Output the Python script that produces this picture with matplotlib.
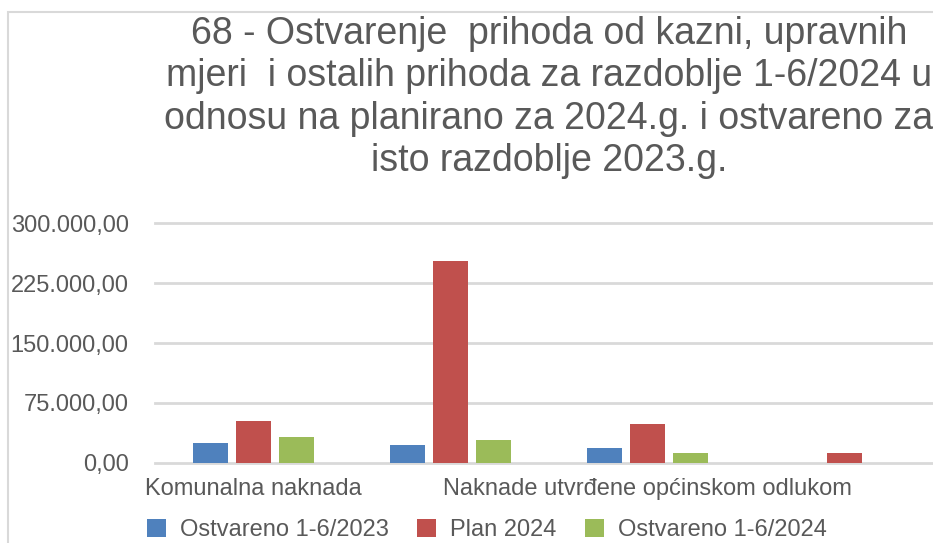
import matplotlib.pyplot as plt
from matplotlib.patches import Rectangle, Patch
import numpy as np

plt.rcParams['font.family'] = ['Liberation Sans', 'DejaVu Sans']

# data
categories = ["Komunalna naknada", "", "Naknade utvrđene općinskom odlukom", ""]
series_names = ["Ostvareno 1-6/2023", "Plan 2024", "Ostvareno 1-6/2024"]
ostvareno_2023 = [25000, 22500, 18750, 0]
plan_2024 = [52500, 252500, 48750, 12500]
ostvareno_2024 = [32500, 28750, 12500, 0]
yticks = [0, 75000, 150000, 225000, 300000]
title = ("68 - Ostvarenje  prihoda od kazni, upravnih\n"
         "mjeri  i ostalih prihoda za razdoblje 1-6/2024 u\n"
         "odnosu na planirano za 2024.g. i ostvareno za\n"
         "isto razdoblje 2023.g.")

colors = ["#4f81bd", "#c0504d", "#9bbb59"]
text_color = "#595959"
grid_color = "#d9d9d9"


def fmt(v):
    # 300000 -> 300.000,00
    s = f"{v:,.2f}"
    return s.replace(",", "X").replace(".", ",").replace("X", ".")


W, H = 933, 543
fig = plt.figure(figsize=(W / 100, H / 100), dpi=100)
ax = fig.add_axes([155 / W, 1 - 463 / H, 788 / W, 240 / H])

x = np.arange(len(categories))
width = 0.178
offset = 0.218
for i, vals in enumerate([ostvareno_2023, plan_2024, ostvareno_2024]):
    ax.bar(x + (i - 1) * offset, vals, width, color=colors[i], zorder=3)

ax.set_xlim(-0.5, len(categories) - 0.5)
ax.set_ylim(0, 300000)
for t in yticks:
    ax.axhline(t, color=grid_color, lw=2, zorder=1, clip_on=False)

ax.set_yticks(yticks)
ax.set_yticklabels([fmt(t) for t in yticks])
ax.set_xticks(x)
ax.set_xticklabels(categories)
ax.tick_params(axis='y', length=0, pad=19, labelsize=17, labelcolor=text_color)
ax.tick_params(axis='x', length=0, pad=11, labelsize=17, labelcolor=text_color)
for s in ax.spines.values():
    s.set_visible(False)

fig.text(549 / W, 1 - 16 / H, title, ha='center', va='top', fontsize=27,
         color=text_color, linespacing=1.23)

handles = [Patch(facecolor=c, edgecolor='none') for c in colors]
fig.legend(handles, series_names, loc='center', bbox_to_anchor=(487 / W, 1 - 530 / H),
           ncol=3, frameon=False, fontsize=17, labelcolor=text_color,
           handlelength=0.8, handleheight=0.8, handletextpad=0.6, columnspacing=1.2,
           borderpad=0)

# chart frame, cut off at right and bottom like the reference
fig.add_artist(Rectangle((8 / W, -0.1), 1.2, 1.1 - 12 / H, transform=fig.transFigure,
                         fill=False, edgecolor=grid_color, lw=1.5))

fig.savefig("out.png", dpi=100)
